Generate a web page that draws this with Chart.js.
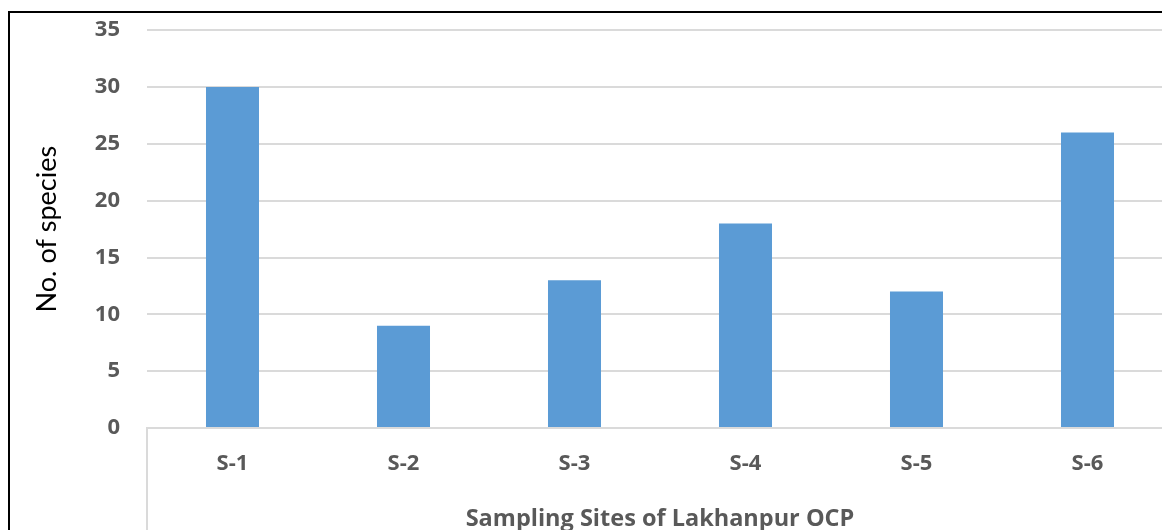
<!DOCTYPE html>
<html>
<head>
<meta charset="utf-8">
<script src="https://cdn.jsdelivr.net/npm/chart.js@4.4.1/dist/chart.umd.min.js"></script>
<style>
  html, body { margin: 0; padding: 0; background: #fff; overflow: hidden; }
  #frame {
    position: absolute;
    left: 8px;
    top: 11px;
    width: 1200px;
    height: 560px;
    border-top: 2px solid #000;
    border-left: 2px solid #000;
  }
  #wrap { position: absolute; left: 0; top: -23px; width: 1163px; height: 543px; }
</style>
</head>
<body>
<div id="frame">
  <div id="wrap"><canvas id="speciesChart"></canvas></div>
</div>
<script>
const sites = ['S-1', 'S-2', 'S-3', 'S-4', 'S-5', 'S-6'];
const speciesCount = [30, 9, 13, 18, 12, 26];
const yTicks = [0, 5, 10, 15, 20, 25, 30, 35];

const gridGrey = '#dadada';
const labelGrey = '#595959';

// vertical rule under the left end of the category axis
const leftRule = {
  id: 'leftRule',
  afterDraw(chart) {
    const { ctx, chartArea } = chart;
    ctx.save();
    ctx.strokeStyle = gridGrey;
    ctx.lineWidth = 2;
    ctx.beginPath();
    ctx.moveTo(chartArea.left, chartArea.bottom);
    ctx.lineTo(chartArea.left, chart.height);
    ctx.stroke();
    ctx.restore();
  }
};

const speciesChart = document.getElementById('speciesChart').getContext('2d');

new Chart(speciesChart, {
  type: 'bar',
  data: {
    labels: sites,
    datasets: [{
      label: 'No. of species',
      data: speciesCount,
      backgroundColor: '#5b9bd5',
      barPercentage: 0.31,
      categoryPercentage: 1
    }]
  },
  plugins: [leftRule],
  options: {
    responsive: true,
    maintainAspectRatio: false,
    animation: false,
    layout: {
      padding: { top: 0, right: 0, left: 0, bottom: 0 }
    },
    plugins: {
      legend: { display: false },
      tooltip: { enabled: false }
    },
    scales: {
      y: {
        min: 0,
        max: 35,
        afterBuildTicks: (scale) => {
          scale.ticks = yTicks.map(v => ({ value: v }));
        },
        afterFit: (scale) => {
          scale.width = 137;
        },
        grid: {
          color: gridGrey,
          lineWidth: 2,
          drawTicks: false
        },
        border: { display: false },
        ticks: {
          color: labelGrey,
          padding: 27,
          font: { family: 'Open Sans', size: 22, weight: 'bold' }
        },
        title: {
          display: true,
          text: 'No. of species',
          color: '#000',
          padding: { top: 21, bottom: 0 },
          font: { family: 'Lato', size: 27 }
        }
      },
      x: {
        afterFit: (scale) => {
          scale.height = 105;
        },
        grid: {
          display: false
        },
        border: {
          display: true,
          color: gridGrey,
          width: 2
        },
        ticks: {
          color: labelGrey,
          padding: 15,
          font: { family: 'Open Sans', size: 22, weight: 'bold' }
        },
        title: {
          display: true,
          text: 'Sampling Sites of Lakhanpur OCP',
          color: labelGrey,
          padding: { top: 0, bottom: 0 },
          font: { family: 'Open Sans', size: 23.5, weight: 'bold' }
        }
      }
    }
  }
});
</script>
</body>
</html>
